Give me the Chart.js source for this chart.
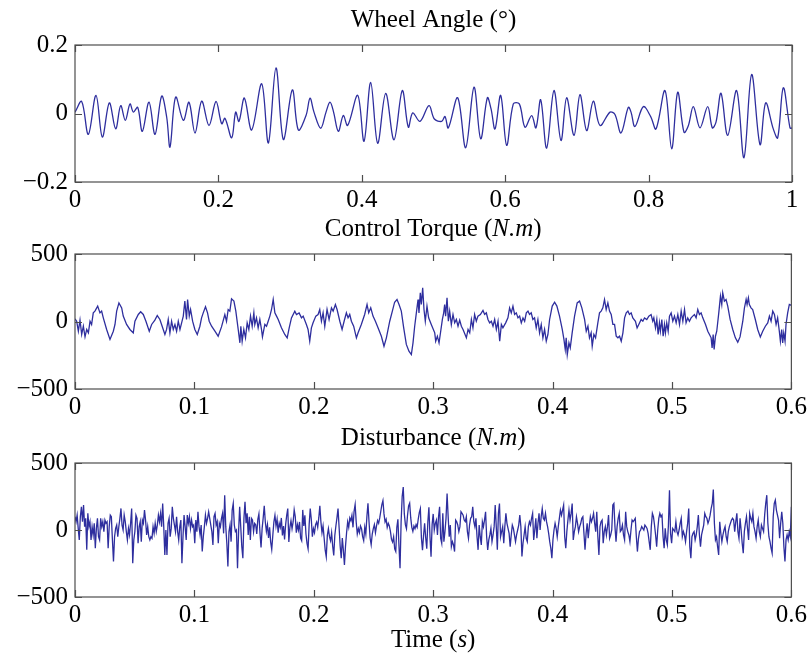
<!DOCTYPE html>
<html>
<head>
<meta charset="utf-8">
<script src="https://cdn.jsdelivr.net/npm/chart.js@4.4.1/dist/chart.umd.min.js"></script>
<style>
  body { margin: 0; background: #fff; }
  #wrap { position: relative; width: 810px; height: 658px; }
  canvas { position: absolute; left: 0; top: 0; }
</style>
</head>
<body>
<div id="wrap">
  <canvas id="angleChart" width="810" height="658"></canvas>
  <canvas id="torqueChart" width="810" height="658"></canvas>
  <canvas id="disturbanceChart" width="810" height="658"></canvas>
</div>
<script>
// wheel angle (deg) -- peaks and troughs
const angleTime = [0, 0.0093, 0.0186, 0.0293, 0.0381, 0.0479, 0.0567, 0.0637, 0.0702, 0.0767, 0.0814, 0.0874, 0.0939, 0.1032, 0.1116, 0.1209, 0.1279, 0.1325, 0.1404, 0.1511, 0.159, 0.1674, 0.1767, 0.1869, 0.1967, 0.2046, 0.2092, 0.2185, 0.2241, 0.2287, 0.2362, 0.2464,
  0.2604, 0.2697, 0.2803, 0.2906, 0.3031, 0.3115, 0.3222, 0.3278, 0.3333, 0.3427, 0.3501, 0.3556, 0.3603, 0.3673, 0.3742, 0.3803, 0.3943, 0.4031, 0.4124, 0.4221, 0.4333, 0.4449, 0.4565, 0.4649, 0.471, 0.4812, 0.4937, 0.5012,
  0.5114, 0.516, 0.5207, 0.5337, 0.5449, 0.5565, 0.5658, 0.5751, 0.5802, 0.5858, 0.5937, 0.602, 0.6113, 0.6197, 0.6276, 0.6369, 0.6429, 0.6495, 0.6578, 0.668, 0.6778, 0.6857, 0.696, 0.7043, 0.7136, 0.7229, 0.7322, 0.7462,
  0.7531, 0.7615, 0.7717, 0.7755, 0.781, 0.7927, 0.8029, 0.8103, 0.8229, 0.8322, 0.8406, 0.8494, 0.8554, 0.8624, 0.8717, 0.8824, 0.8889, 0.894, 0.901, 0.9103, 0.9228, 0.933, 0.9437, 0.9554, 0.9633, 0.9739, 0.98, 0.9879, 0.9972, 1.0];
const angleValue = [0.004, 0.035, -0.061, 0.053, -0.069, 0.031, -0.045, 0.023, -0.020, 0.028, 0.004, 0.018, -0.052, 0.033, -0.061, 0.051, -0.011, -0.098, 0.048, -0.020, 0.033, -0.057, 0.036, -0.035, 0.035, -0.030, -0.014, -0.071, 0.004, -0.023, 0.045, -0.048,
  0.087, -0.086, 0.133, -0.076, 0.069, -0.048, -0.006, 0.045, 0.004, -0.043, 0.004, 0.033, 0.007, -0.052, -0.006, -0.035, 0.053, -0.081, 0.091, -0.087, 0.059, -0.077, 0.067, -0.040, 0.002, -0.023, 0.023, -0.016,
  -0.023, -0.009, -0.042, 0.046, -0.100, 0.077, -0.074, 0.046, 0.014, -0.045, 0.053, -0.093, 0.028, 0.028, -0.040, -0.006, -0.042, 0.040, -0.101, 0.067, -0.079, 0.046, -0.064, 0.055, -0.050, 0.036, -0.035, 0.004,
  -0.003, -0.057, 0.018, 0.004, -0.038, 0.020, -0.009, -0.045, 0.067, -0.103, 0.062, -0.055, -0.036, 0.020, -0.042, 0.020, -0.042, -0.025, 0.059, -0.064, 0.067, -0.129, 0.114, -0.091, 0.031, -0.045, -0.071, 0.075, -0.042, -0.043];

// control torque (N.m)
const torqueTime = [0, 0.0014, 0.0028, 0.0042, 0.0056, 0.007, 0.0084, 0.0098, 0.0112, 0.0126, 0.0139, 0.0153, 0.0167, 0.019, 0.0209, 0.0223, 0.0237, 0.0265, 0.0293, 0.0321, 0.0335, 0.0349, 0.0368, 0.0391, 0.0404, 0.0432, 0.046, 0.0488, 0.0502, 0.053, 0.055, 0.0572, 0.0594, 0.0622, 0.0642, 0.0669, 0.0689, 0.0711, 0.0725, 0.0753, 0.0767, 0.0781, 0.0795, 0.0809, 0.0823, 0.0837, 0.0851, 0.0865, 0.0879, 0.0893, 0.0907, 0.092, 0.0934, 0.0943, 0.0957, 0.0968, 0.0985, 0.1004, 0.1024, 0.1046, 0.106, 0.1074, 0.1093, 0.111, 0.1124, 0.1144, 0.1172, 0.1199, 0.1227, 0.1255, 0.1269, 0.1283, 0.1297, 0.1311, 0.1331, 0.1347, 0.1367, 0.1381, 0.1389, 0.14, 0.1414, 0.1428, 0.1442, 0.1456, 0.147, 0.1484, 0.1498,
  0.1506, 0.152, 0.1534, 0.1548, 0.1562, 0.157, 0.159, 0.1604, 0.1618, 0.1632, 0.1646, 0.166, 0.1674, 0.1688, 0.1702, 0.1729, 0.1757, 0.1777, 0.1794, 0.1813, 0.1841, 0.1855, 0.1877, 0.1897, 0.1911, 0.1938, 0.1952, 0.1966, 0.198, 0.1994, 0.2017, 0.2036, 0.205, 0.2064, 0.2078, 0.2092, 0.2111, 0.2128, 0.2148, 0.2162, 0.2181, 0.2195, 0.2218, 0.2237, 0.2254, 0.2273, 0.2287, 0.2301, 0.2315, 0.2334, 0.2357, 0.2371, 0.2398, 0.2426, 0.2446, 0.246, 0.2477, 0.2496, 0.2516, 0.2538, 0.2566, 0.2588, 0.2608, 0.2636, 0.2658, 0.2677, 0.2697, 0.2714, 0.2733, 0.2753, 0.2775, 0.2797, 0.2817, 0.2831, 0.2845, 0.2859, 0.2873, 0.2881, 0.2892, 0.2901, 0.2912, 0.2923, 0.2934, 0.2948, 0.2962, 0.2984,
  0.3013, 0.3021, 0.3035, 0.3049, 0.3063, 0.3077, 0.3088, 0.3096, 0.3104, 0.3116, 0.3127, 0.3138, 0.3152, 0.3166, 0.318, 0.3194, 0.3208, 0.3222, 0.3236, 0.325, 0.3278, 0.3292, 0.3306, 0.332, 0.3333, 0.3347, 0.3361, 0.3375, 0.3395, 0.3417, 0.3431, 0.3445, 0.3459, 0.3473, 0.3487, 0.3501, 0.3515, 0.3529, 0.3543, 0.3557, 0.3571, 0.3584, 0.3607, 0.3626, 0.364, 0.3654, 0.3668, 0.3682, 0.3696, 0.371, 0.3724, 0.3738, 0.3752, 0.3766, 0.378, 0.3794, 0.3807, 0.3821, 0.3835, 0.3849, 0.3863, 0.3877, 0.3891, 0.3905, 0.3919, 0.3933, 0.3947, 0.3961, 0.3975, 0.3997, 0.4017, 0.4036, 0.4058, 0.4081, 0.4095, 0.4106, 0.4114, 0.4123, 0.4137, 0.4148, 0.4164, 0.4184, 0.4206, 0.4226, 0.4245, 0.4268, 0.4282, 0.4296, 0.4309, 0.4323, 0.4332, 0.4346, 0.436, 0.4379, 0.4393, 0.4407, 0.4421, 0.4435, 0.4449, 0.4463, 0.4477, 0.4491, 0.4505,
  0.4519, 0.4533, 0.4547, 0.4561, 0.4575, 0.4589, 0.4603, 0.4617, 0.4631, 0.4644, 0.4658, 0.4672, 0.4694, 0.4708, 0.4722, 0.4742, 0.4756, 0.477, 0.4789, 0.4806, 0.4825, 0.4839, 0.4848, 0.4862, 0.4873, 0.4884, 0.4895, 0.4903, 0.4915, 0.4926, 0.4937, 0.4945, 0.4956, 0.4968, 0.4979, 0.4993, 0.5007, 0.5021, 0.5035, 0.5049, 0.5063, 0.5077, 0.5091, 0.5105, 0.5118, 0.5132, 0.5146, 0.516, 0.5174, 0.5188, 0.5202, 0.5216, 0.523, 0.5244, 0.5258, 0.5281, 0.53, 0.5314, 0.5328, 0.5336, 0.5345, 0.5353, 0.5364, 0.5375, 0.5392, 0.5406, 0.5417, 0.5425, 0.5439, 0.5453, 0.5467, 0.5487, 0.5509, 0.5531, 0.5551, 0.557, 0.5593, 0.5607, 0.5621, 0.5629, 0.564, 0.5648, 0.5662, 0.5676, 0.5698, 0.5718, 0.574, 0.576, 0.5782, 0.5802, 0.5816, 0.583, 0.5844, 0.5858, 0.5872, 0.5885, 0.5899, 0.5908, 0.5919, 0.5927, 0.5936, 0.5947, 0.5955, 0.5969, 0.5983, 0.6];
const torqueValue = [20, 2, -72, 10, -96, -35, -114, -59, -84, 2, -22, 64, 77, 114, 64, 77, 27, -59, -133, -72, -22, 77, 138, 101, 40, -22, -59, -84, 2, 52, 72, 52, 2, -72, -22, 10, 44, 15, -22, -96, -59, 15, -84, 2, -59, -22, -72, 2, -59, -10, 40, 151, 15, 163, 40, 89, 2, -59, -96, -35, 27, 64, 109, 64, 2, -35, -72, -109, -40, 52, 2, 89, 77, 168, 151, 77, -59, -158, -35, -146, -59, -121, -10, -59, 40, -35, 64,
  -22, 27, -47, 15, -59, -114, -22, -35, 2, 40, 89, 163, 64, 40, 15, -47, -96, -121, -47, 27, 77, 52, 64, 27, 40, -22, -59, -146, -47, -10, 40, 52, 89, 2, 64, -35, 89, 15, 101, 77, 126, 89, 2, -59, 2, 64, 27, 52, 2, -35, -121, -84, -22, 52, 126, 64, 101, 40, 2, -47, -109, -183, -121, 2, 77, 143, 163, 126, 77, -47, -170, -220, -245, -158, -35, 64, 163, 64, 212, 126, 249, 89, 2, 114, 27, -22,
  -84, -146, -109, -158, -72, 15, 64, 126, 40, 175, 2, 77, -22, 52, -10, 15, -35, 10, -35, -59, -121, -59, -84, 15, -47, 52, 2, 40, 52, 82, 52, 64, 15, -10, 2, -35, 15, -59, 2, -146, -22, -47, -10, 27, 101, 64, 114, 52, 64, 27, 40, -10, 27, 2, 64, 77, 52, 64, 15, 27, -47, 15, -84, -22, -121, -59, -146, -96, 15, 114, 143, 114, 40, -59, -133, -207, -121, -245, -158, -195, -84, 40, 138, 151, 101, 15, -72, -35, -121, -84, -183, -96, -121, -10, 64, 77, 101, 163, 89, 138, 77, 52, -22,
  -22, -109, -121, -109, -146, -84, 27, 64, 77, 52, 64, 27, 2, -47, -22, 15, 2, 27, 15, 40, 52, 2, 27, -47, 15, -96, -10, -72, 15, -109, -22, -84, -10, -72, 40, 64, 2, 40, -10, 52, -22, 77, 2, 89, -10, 27, 2, 27, 40, 52, 27, 89, 52, 64, 27, -22, -72, -96, -121, -195, -96, -207, -109, -72, 64, 188, 126, 212, 151, 163, 114, 15, -59, -121, -153, -114, 2, 101, 163, 126, 175, 126, 101, 89, 15, -59, -114, -72, -35, -10, 40, 2, 77, 52, -22, 27, -72, -146, -59, -158, -84, -146, -22, 64, 126, 119];

// disturbance (N.m), evenly sampled from 0 to 0.6 s
const disturbanceValue = [99, 62, 111, 12, -74, 99, 173, 62, 186, 25, 87, -148, 124, 25, 62, -74, 25, -37, 50, -136, 12, 87, -50, -74, 87, 25, 62, -12, 74, 50, 62, -136, 25, 111, 99, -74, -235, -50, 12, 37, -50, 25, 87, 161, 37, 0, 111, 62, -12, -74, 12, -37, 50, 161, -248, -74, -12, 111, 87, -99, 25, 62, -87, 74, 50, 149, 74, -37, 25, -50, -74, -50, -62, 25, -25, 50, -12, 37, 111, 62, 124, 25, 198, 25, -186, 0, -186, 50, 87, -50, 12, 173, 87, 37, -12, 99, -12, -74, 25, 74, -248, -50, 111, 25, -74, 111, 50, 99, 12, 74, 25, 37, -99, 74, -12, 136, 25, -37, 37, -161, -50, 25, 111, 50, 87, 136, 87, 37, -12, -111, 99, 124, 37, 62, -99, 50, 25, 87, 124, -25, 260, 25, -99, -272, -12, 37, -87, 149, 198, 37, -12, 0, -285, -12, 173, 25, -124, -210, 87, 210, 50, 124, -37, 99, -74, 87, 74, -12, 50,
  40, -30, 80, 120, -20, -130, 10, 90, 180, 60, -10, 40, -60, 20, -90, -145, -40, 60, 110, 30, 80, -20, 50, 20, 90, -40, 30, -70, 40, 110, 160, -90, 20, 70, 10, 60, 150, 100, -20, 40, 0, 60, -60, -80, 150, 30, 110, -30, -100, -140, 40, 160, 80, -50, 10, -20, 40, 60, 20, 90, 180, 60, -20, 30, -60, -150, -200, -40, 10, -50, -80, -20, -120, -190, -40, 30, 90, 160, 20, -120, -210, -60, -150, -260, -120, -20, 60, 20, 90, 70, 110, 20, 140, 190, 60, -30, 10, -20, 30, 10, -50, -80, 20, -30, 100, 200, 60, -60, -110, -30, 10, 40, -20, 30, 70, 50, 90, 140, 190, 220, 120, 60, 80, 20, 50, 30, -10, -70, -90, -50, -140, -160, 20, 80, -120, -285, 60, 250, 320, 120, 40, 10, 110, 180, 200, 90, 20, -10, 30, 10, 40, 20, 80, 130, 160, -60, -150, -40, 50, -60, -140, 60, 170, -50, -200, 40, 120,
  0, 50, 74, -37, 99, 173, -62, -99, 124, -87, -12, 87, 272, 99, -50, 37, -124, -87, -111, -161, 74, 62, 37, -12, 25, 136, 124, 111, 74, 62, 99, -12, -62, 37, 87, 99, 173, 62, 25, 87, -50, -148, 37, -50, -111, 62, 25, 74, 136, -50, -148, -74, -37, 12, -87, -37, 25, 186, 25, -148, 124, 198, -50, -12, 25, -99, 25, 124, 50, 12, -25, -124, -37, 37, 12, -37, -87, -37, 0, 37, 111, 25, -198, -99, -37, 25, -62, -87, 25, 62, 37, 87, 124, -74, 0, 87, -62, 50, 124, 0, 99, 161, 87, 74, 124, 62, 25, -25, -87, -136, -210, -74, 0, 50, 12, -50, 25, 87, 149, 111, 149, 186, -50, -136, -12, 74, 149, 74, 124, 198, -74, -12, 25, 99, 50, -12, 25, 50, 87, 99, -25, -148, -25, 50, -62, 25, 99, 62, 87, 124, 50, -12, 136, -50, -186, 25, 62, 74, -99, -12, 25, -37, 25, 111, -62, -37, 0, 186,
  198, 25, -87, 25, 87, 124, -12, 0, 37, -37, -74, 136, 25, -12, -37, -87, 0, 74, 62, 74, 87, -50, -161, -62, -12, 0, 25, 12, 0, 37, 25, 12, -25, -87, -148, 25, 124, 99, 37, -37, -124, 0, 87, 124, 99, 111, -50, -136, 12, -74, -111, 37, 297, -25, -99, 12, 0, -12, 62, -12, -37, 0, 50, 87, -50, -12, -37, -87, -12, 50, 161, -124, -210, -50, -25, -12, -74, -37, 25, 111, -37, -124, -37, 0, 37, 124, 99, 87, 50, 74, 111, 161, 198, 302, 50, -74, -50, -124, -186, 62, -25, -87, -37, 0, 25, -50, -87, -12, 25, 50, 74, 87, 74, -12, 62, 124, -12, -62, 87, 0, -99, -173, -12, 50, 99, 12, -74, 124, 87, 62, 124, 25, -12, -62, 25, 74, -12, -50, 37, 12, -12, 111, 198, 260, 50, -50, -87, -136, -173, 99, 198, 223, 149, 111, 74, -62, 50, 136, 50, -124, -235, -74, -37, -74, -12, -50, 173];
const disturbanceSpan = 0.6;

// tick values
const angleXTicks = [0, 0.2, 0.4, 0.6, 0.8, 1];
const angleYTicks = [-0.2, 0, 0.2];
const timeXTicks = [0, 0.1, 0.2, 0.3, 0.4, 0.5, 0.6];
const torqueYTicks = [-500, 0, 500];

const FONT = '"Liberation Serif", "Times New Roman", serif';
const LINE = 'rgb(46, 46, 158)';
const AXIS = '#4d4d4d';

function fmt(v) {
  return String(Math.round(v * 1000) / 1000).replace('-', '\u2212');
}

function drawParts(ctx, parts, cx, cy) {
  let total = 0;
  parts.forEach(p => {
    ctx.font = (p.italic ? 'italic ' : '') + '25px ' + FONT;
    p.w = ctx.measureText(p.text).width;
    total += p.w;
  });
  let x = cx - total / 2;
  ctx.textBaseline = 'middle';
  ctx.textAlign = 'left';
  ctx.fillStyle = '#000';
  parts.forEach(p => {
    ctx.font = (p.italic ? 'italic ' : '') + '25px ' + FONT;
    ctx.fillText(p.text, x, cy);
    x += p.w;
  });
}

// MATLAB style box, inward ticks, titles
const axesBox = {
  id: 'axesBox',
  afterDraw(chart, args, opts) {
    const { ctx, chartArea: a, scales } = chart;
    ctx.save();
    ctx.strokeStyle = AXIS;
    ctx.lineWidth = 1.2;
    ctx.strokeRect(a.left, a.top, a.right - a.left, a.bottom - a.top);
    ctx.beginPath();
    scales.x.ticks.forEach(t => {
      const px = Math.round(scales.x.getPixelForValue(t.value)) + 0.5;
      ctx.moveTo(px, a.bottom); ctx.lineTo(px, a.bottom - 7);
      ctx.moveTo(px, a.top); ctx.lineTo(px, a.top + 7);
    });
    scales.y.ticks.forEach(t => {
      const py = Math.round(scales.y.getPixelForValue(t.value)) + 0.5;
      ctx.moveTo(a.left, py); ctx.lineTo(a.left + 7, py);
      ctx.moveTo(a.right, py); ctx.lineTo(a.right - 7, py);
    });
    ctx.stroke();
    drawParts(ctx, opts.title, (a.left + a.right) / 2, a.top - 25);
    if (opts.xlabel) drawParts(ctx, opts.xlabel, (a.left + a.right) / 2, a.bottom + 43);
    ctx.restore();
  }
};

function makeChart(id, points, cfg) {
  const tickFont = { family: FONT, size: 25 };
  return new Chart(document.getElementById(id), {
    type: 'line',
    data: {
      datasets: [{
        data: points,
        borderColor: LINE,
        borderWidth: 1.3,
        pointRadius: 0,
        fill: false,
        tension: cfg.smooth ? 0.35 : 0
      }]
    },
    options: {
      responsive: false,
      animation: false,
      devicePixelRatio: 1,
      layout: { padding: { left: 0, right: 18, top: cfg.top, bottom: 658 - cfg.bottom - 40 } },
      plugins: {
        legend: { display: false },
        tooltip: { enabled: false },
        axesBox: { title: cfg.title, xlabel: cfg.xlabel }
      },
      scales: {
        x: {
          type: 'linear',
          min: 0,
          max: cfg.xTicks[cfg.xTicks.length - 1],
          grid: { display: false, drawTicks: false },
          border: { display: false },
          afterBuildTicks: s => { s.ticks = cfg.xTicks.map(v => ({ value: v })); },
          afterFit: s => { s.height = 40; },
          ticks: { font: tickFont, color: '#000', padding: 3, maxRotation: 0, autoSkip: false, callback: v => fmt(v) }
        },
        y: {
          type: 'linear',
          min: cfg.yTicks[0],
          max: cfg.yTicks[cfg.yTicks.length - 1],
          grid: { display: false, drawTicks: false },
          border: { display: false },
          afterBuildTicks: s => { s.ticks = cfg.yTicks.map(v => ({ value: v })); },
          afterFit: s => { s.width = 75; },
          ticks: { font: tickFont, color: '#000', padding: 7, autoSkip: false, callback: v => fmt(v) }
        }
      }
    },
    plugins: [axesBox]
  });
}

makeChart('angleChart', angleTime.map((t, i) => ({ x: t, y: angleValue[i] })), {
  top: 45, bottom: 182, smooth: true,
  xTicks: angleXTicks, yTicks: angleYTicks,
  title: [{ text: 'Wheel Angle (°)' }]
});

makeChart('torqueChart', torqueTime.map((t, i) => ({ x: t, y: torqueValue[i] })), {
  top: 254, bottom: 389,
  xTicks: timeXTicks, yTicks: torqueYTicks,
  title: [{ text: 'Control Torque (' }, { text: 'N.m', italic: true }, { text: ')' }]
});

const step = disturbanceSpan / (disturbanceValue.length - 1);
makeChart('disturbanceChart', disturbanceValue.map((v, i) => ({ x: i * step, y: v })), {
  top: 463, bottom: 597,
  xTicks: timeXTicks, yTicks: torqueYTicks,
  title: [{ text: 'Disturbance (' }, { text: 'N.m', italic: true }, { text: ')' }],
  xlabel: [{ text: 'Time (' }, { text: 's', italic: true }, { text: ')' }]
});
</script>
</body>
</html>
